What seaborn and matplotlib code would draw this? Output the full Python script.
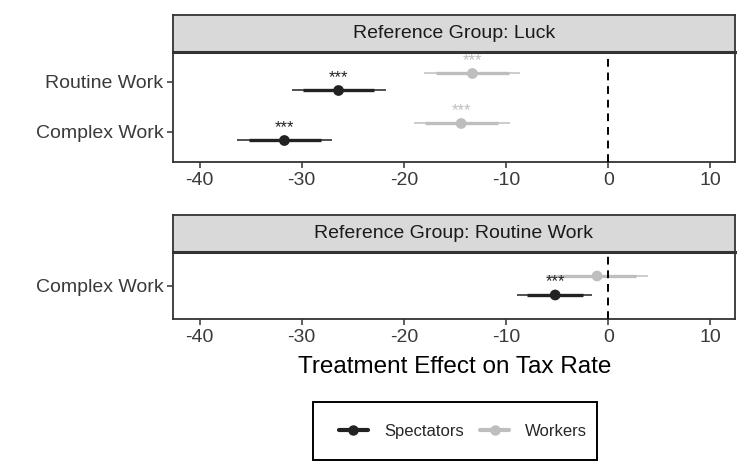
import numpy as np
import pandas as pd
import matplotlib
matplotlib.use("Agg")
import matplotlib.pyplot as plt
from matplotlib.lines import Line2D
from matplotlib.patches import Rectangle
import seaborn as sns

sns.set_theme(style="white")
plt.rcParams["font.family"] = ["Liberation Sans", "DejaVu Sans"]

# data ------------------------------------------------------------------
panel = ["Luck", "Luck", "Luck", "Luck", "Routine Work", "Routine Work"]
category = ["Routine Work", "Routine Work", "Complex Work", "Complex Work", "Complex Work", "Complex Work"]
group = ["Spectators", "Workers", "Spectators", "Workers", "Spectators", "Workers"]
estimate = [-26.4, -13.3, -31.7, -14.4, -5.2, -1.1]
ci90_low = [-29.9, -16.9, -35.2, -17.9, -8.0, -4.9]
ci90_high = [-22.9, -9.75, -28.1, -10.8, -2.5, 2.7]
ci95_low = [-31.0, -18.0, -36.3, -19.0, -8.9, -6.0]
ci95_high = [-21.8, -8.6, -27.0, -9.6, -1.6, 3.9]
stars = ["***", "***", "***", "***", "***", ""]

panel_order = ["Luck", "Routine Work"]
panel_cats = {"Luck": ["Routine Work", "Complex Work"], "Routine Work": ["Complex Work"]}
x_ticks = [-40, -30, -20, -10, 0, 10]

df = pd.DataFrame({"panel": panel, "category": category, "group": group,
                   "estimate": estimate, "lo90": ci90_low, "hi90": ci90_high,
                   "lo95": ci95_low, "hi95": ci95_high, "stars": stars})

colors = {"Spectators": "#222222", "Workers": "#BEBEBE"}
dodge = {"Spectators": 0.17, "Workers": -0.17}
frame = "#333333"

fig = plt.figure(figsize=(7.44, 4.73), dpi=100)
H = 473.0
W = 744.0
left, right = 173 / W, 735 / W
# (strip top, strip bottom, panel bottom) in pixels
boxes = {"Luck": (15, 52, 162), "Routine Work": (215, 252, 319)}

for p in panel_order:
    st, sb, pb = boxes[p]
    ax = fig.add_axes([left, 1 - pb / H, right - left, (pb - sb) / H])
    sax = fig.add_axes([left, 1 - sb / H, right - left, (sb - st) / H])

    cats = panel_cats[p]
    d = df[df["panel"] == p].copy()
    d["y"] = [cats.index(c) + dodge[g] for c, g in zip(d["category"], d["group"])]

    for _, r in d.iterrows():
        ax.hlines(r["y"], r["lo95"], r["hi95"], color=colors[r["group"]], lw=1.1, zorder=2)
        ax.hlines(r["y"], r["lo90"], r["hi90"], color=colors[r["group"]], lw=2.4, zorder=2)
        if r["stars"]:
            ax.text(r["estimate"], r["y"] - 0.1, r["stars"], ha="center", va="bottom",
                    fontsize=12, color=colors[r["group"]])
    sns.scatterplot(data=d, x="estimate", y="y", hue="group", palette=colors,
                    s=60, edgecolor="none", legend=False, ax=ax, zorder=3)

    ax.axvline(0, color="black", lw=1.4, ls=(0, (4, 3)), zorder=4)
    ax.set_xlim(-42.6, 12.4)
    ax.set_ylim(len(cats) - 0.4, -0.6)
    ax.set_yticks(range(len(cats)))
    ax.set_yticklabels(cats)
    ax.set_xticks(x_ticks)
    ax.set_xticklabels([str(t) for t in x_ticks])
    ax.set_xlabel("")
    ax.set_ylabel("")
    ax.tick_params(axis="both", which="both", length=4, width=1.1, color=frame,
                   labelsize=14, labelcolor="#3a3a3a", pad=3, bottom=True, left=True)
    for s in ax.spines.values():
        s.set_color(frame)
        s.set_linewidth(1.3)

    sax.set_facecolor("#D9D9D9")
    sax.set_xticks([])
    sax.set_yticks([])
    for s in sax.spines.values():
        s.set_color(frame)
        s.set_linewidth(1.3)
    sax.spines["bottom"].set_linewidth(2.2)
    sax.text(0.5, 0.5, "Reference Group: " + p, ha="center", va="center",
             fontsize=14, color="#1a1a1a", transform=sax.transAxes)

fig.text(455 / W, 1 - 367 / H, "Treatment Effect on Tax Rate", ha="center", va="center",
         fontsize=17.5, color="black")

# legend box drawn separately (ggplot leaves more room on the left)
fig.patches.append(Rectangle((313 / W, 1 - 460 / H), 284 / W, 58 / H, transform=fig.transFigure,
                             facecolor="none", edgecolor="black", lw=1.4))
handles = [Line2D([0], [0], color=colors[g], lw=3, marker="o", markersize=6.5) for g in ["Spectators", "Workers"]]
leg = fig.legend(handles, ["Spectators", "Workers"], loc="center", bbox_to_anchor=(463 / W, 1 - 431 / H),
                 ncol=2, frameon=False, fontsize=12, handlelength=1.75,
                 handletextpad=0.95, columnspacing=1.0, borderpad=0.5)

fig.savefig("out.png", dpi=100)
